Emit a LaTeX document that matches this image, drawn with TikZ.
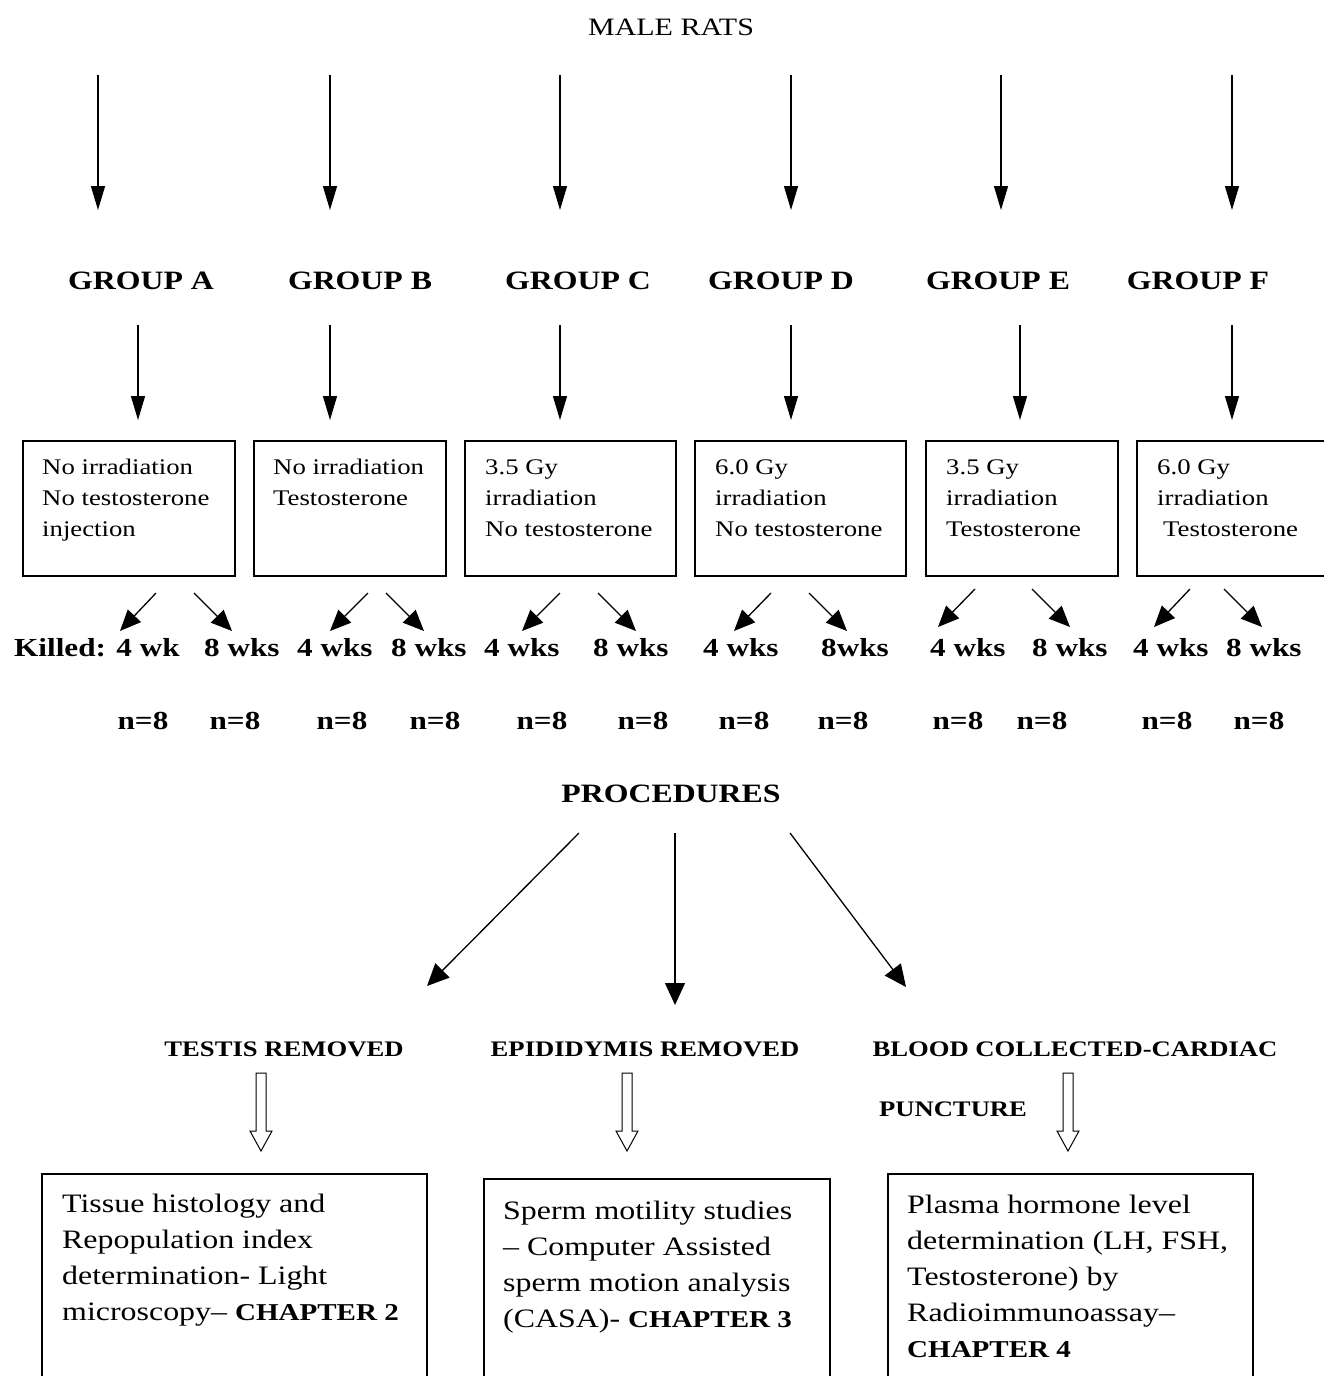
\documentclass[tikz,border=0pt]{standalone}
\usepackage{fontspec}
\setmainfont{Liberation Serif}[FakeStretch=1.2]
\usetikzlibrary{arrows.meta,calc}
\newcommand\boxtext[1]{\parbox[t]{420pt}{\raggedright #1}}
\newcommand\chap[1]{{\fontsize{24.2}{36}\selectfont\bfseries #1}}
\newcommand\hollowarrow[2]{\draw[line width=1pt] ($(#1)+(-5,0)$) -- ($(#1)+(5,0)$) -- ($(#2)+(5,-20)$) -- ($(#2)+(11,-20)$) -- (#2) -- ($(#2)+(-11,-20)$) -- ($(#2)+(-5,-20)$) -- cycle;}
\begin{document}
\begin{tikzpicture}[x=1pt,y=-1pt,
  arr/.style={line width=1.3pt,-{Triangle[length=24pt,width=14pt]}},
  darr/.style={line width=1.3pt,-{Triangle[length=21pt,width=18pt]}},
  parr/.style={line width=1.3pt,-{Triangle[length=22pt,width=20pt]}},
  grpbox/.style={draw,line width=1.6pt,anchor=north west,inner sep=0},
  btxt/.style={anchor=base west,inner sep=0,font=\fontsize{22.3}{31}\selectfont},
  ltxt/.style={anchor=base west,inner sep=0,font=\fontsize{26.6}{36}\selectfont},
  title/.style={anchor=base,inner sep=0,font=\fontsize{25}{28}\selectfont},
  glabel/.style={anchor=base,inner sep=0,font=\fontsize{26.5}{30}\selectfont\bfseries},
  klabel/.style={anchor=base west,inner sep=0,font=\fontsize{26}{30}\selectfont\bfseries},
  nlabel/.style={anchor=base,inner sep=0,font=\fontsize{26}{30}\selectfont\bfseries},
  plabel/.style={anchor=base,inner sep=0,font=\fontsize{22.2}{25}\selectfont\bfseries}]
\useasboundingbox (0,0) rectangle (1324,1376);
\clip (0,0) rectangle (1324,1376);

% title
\node[title] (male) at (671,35) {MALE RATS};

% top arrows
\foreach \i/\x in {a/98,b/330,c/560,d/791,e/1001,f/1232}{
  \coordinate (t\i s) at (\x,75);
  \coordinate (t\i e) at (\x,210);
  \draw[arr] (t\i s) -- (t\i e);
}

% group labels
\node[glabel] (gA) at (141,289) {GROUP A};
\node[glabel] (gB) at (360,289) {GROUP B};
\node[glabel] (gC) at (578,289) {GROUP C};
\node[glabel] (gD) at (781,289) {GROUP D};
\node[glabel] (gE) at (998,289) {GROUP E};
\node[glabel] (gF) at (1198,289) {GROUP F};

% second arrows
\foreach \i/\x in {a/138,b/330,c/560,d/791,e/1020,f/1232}{
  \coordinate (s\i s) at (\x,325);
  \coordinate (s\i e) at (\x,420);
  \draw[arr] (s\i s) -- (s\i e);
}

% group boxes
\node[grpbox,minimum width=212pt,minimum height=135pt] (bA) at (22,440) {};
\node[grpbox,minimum width=192pt,minimum height=135pt] (bB) at (253,440) {};
\node[grpbox,minimum width=211pt,minimum height=135pt] (bC) at (464,440) {};
\node[grpbox,minimum width=211pt,minimum height=135pt] (bD) at (694,440) {};
\node[grpbox,minimum width=192pt,minimum height=135pt] (bE) at (925,440) {};
\node[grpbox,minimum width=210pt,minimum height=135pt] (bF) at (1136,440) {};

\node[btxt] (tA) at (42,474) {\boxtext{No irradiation\\No testosterone\\injection}};
\node[btxt] (tB) at (273,474) {\boxtext{No irradiation\\Testosterone}};
\node[btxt] (tC) at (485,474) {\boxtext{3.5 Gy\\irradiation\\No testosterone}};
\node[btxt] (tD) at (715,474) {\boxtext{6.0 Gy\\irradiation\\No testosterone}};
\node[btxt] (tE) at (946,474) {\boxtext{3.5 Gy\\irradiation\\Testosterone}};
\node[btxt] (tF) at (1157,474) {\boxtext{6.0 Gy\\irradiation\\\hspace*{6pt}Testosterone}};

% small diagonal arrows
\foreach \n/\xa/\ya/\xb/\yb in {
  a1/156/593/120/631, a2/194/593/232/631,
  b1/368/593/330/631, b2/386/593/424/631,
  c1/560/593/522/631, c2/598/593/636/631,
  d1/771/593/734/631, d2/809/593/847/631,
  e1/975/589/938/627, e2/1032/589/1070/627,
  f1/1190/589/1154/627, f2/1224/589/1262/627}{
  \coordinate (k\n s) at (\xa,\ya);
  \coordinate (k\n e) at (\xb,\yb);
  \draw[darr] (k\n s) -- (k\n e);
}

% killed row
\node[klabel] (kA1) at (14,656) {Killed: 4 wk};
\node[klabel] (kA2) at (204,656) {8 wks};
\node[klabel] (kB1) at (297,656) {4 wks};
\node[klabel] (kB2) at (391,656) {8 wks};
\node[klabel] (kC1) at (484,656) {4 wks};
\node[klabel] (kC2) at (593,656) {8 wks};
\node[klabel] (kD1) at (703,656) {4 wks};
\node[klabel] (kD2) at (821,656) {8wks};
\node[klabel] (kE1) at (930,656) {4 wks};
\node[klabel] (kE2) at (1032,656) {8 wks};
\node[klabel] (kF1) at (1133,656) {4 wks};
\node[klabel] (kF2) at (1226,656) {8 wks};

% n row
\foreach \j/\x in {1/143,2/235,3/342,4/435,5/542,6/643,7/744,8/843,9/958,10/1042,11/1167,12/1259}{
  \node[nlabel] (n\j) at (\x,729) {n=8};
}

% procedures
\node[glabel] (proc) at (671,802) {PROCEDURES};
\coordinate (p1s) at (579,833);
\coordinate (p1e) at (427,986);
\coordinate (p2s) at (675,833);
\coordinate (p2e) at (675,1005);
\coordinate (p3s) at (790,833);
\coordinate (p3e) at (906,987);
\draw[parr] (p1s) -- (p1e);
\draw[parr] (p2s) -- (p2e);
\draw[parr] (p3s) -- (p3e);

\node[plabel] (testis) at (284,1056) {TESTIS REMOVED};
\node[plabel] (epi) at (645,1056) {EPIDIDYMIS REMOVED};
\node[plabel] (blood) at (1075,1056) {BLOOD COLLECTED-CARDIAC};
\node[plabel] (punct) at (953,1116) {PUNCTURE};

% hollow arrows
\coordinate (h1s) at (261,1073); \coordinate (h1e) at (261,1151);
\coordinate (h2s) at (627,1073); \coordinate (h2e) at (627,1151);
\coordinate (h3s) at (1068,1073); \coordinate (h3e) at (1068,1151);
\hollowarrow{h1s}{h1e}
\hollowarrow{h2s}{h2e}
\hollowarrow{h3s}{h3e}

% bottom boxes
\node[grpbox,minimum width=385pt,minimum height=240pt] (c2) at (41,1173) {};
\node[grpbox,minimum width=346pt,minimum height=240pt] (c3) at (483,1178) {};
\node[grpbox,minimum width=365pt,minimum height=240pt] (c4) at (887,1173) {};

\node[ltxt] (c2t) at (62,1212) {\boxtext{Tissue histology and\\Repopulation index\\determination- Light\\microscopy-- \chap{CHAPTER 2}}};
\node[ltxt] (c3t) at (503,1219) {\boxtext{Sperm motility studies\\-- Computer Assisted\\sperm motion analysis\\(CASA)- \chap{CHAPTER 3}}};
\node[ltxt] (c4t) at (907,1213) {\boxtext{Plasma hormone level\\determination (LH, FSH,\\Testosterone) by\\Radioimmunoassay--\\\chap{CHAPTER 4}}};
\end{tikzpicture}
\end{document}
